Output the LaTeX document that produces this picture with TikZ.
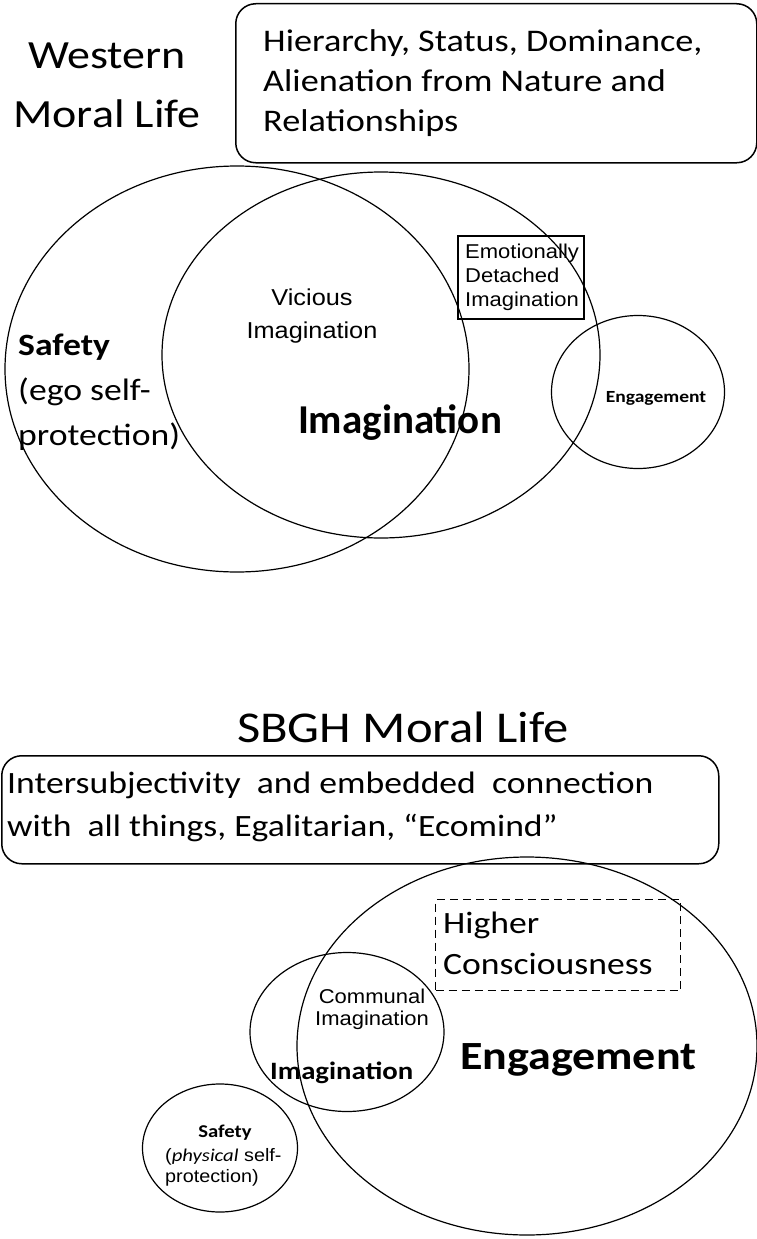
\documentclass[tikz,border=0pt]{standalone}
\usepackage{fontspec}
\setmainfont[FakeStretch=1.15]{Carlito}
\newfontfamily\plainfont{Carlito}
\newfontfamily\arialfont[FakeStretch=1.1]{Liberation Sans}
\usetikzlibrary{positioning, shapes.geometric}

\begin{document}
\begin{tikzpicture}[x=1pt, y=-1pt,
    ring/.style = {draw, ellipse, line width=1.2pt, inner sep=0pt},
    panel/.style = {draw, rounded corners=20pt, line width=1.5pt, inner sep=0pt, anchor=north west},
    tag/.style = {inner sep=0pt, align=left}]
    \useasboundingbox (0,0) rectangle (757,1239);

    % Western moral life
    \node[tag, align=center, anchor=base, font=\fontsize{40}{59}\selectfont] (titleW) at (107,127) {Western\\Moral Life};
    \node[panel, minimum width=521pt, minimum height=159pt] (boxW) at (235,3) {};
    \node[tag, anchor=base west, font=\fontsize{31.5}{40}\selectfont] (valuesW) at (263,131)
        {Hierarchy, Status, Dominance,\\Alienation from Nature and\\Relationships};

    % Circles
    \node[ring, minimum width=464pt, minimum height=406pt] (safetyW) at (237,369) {};
    \node[ring, minimum width=438pt, minimum height=366pt] (imagW) at (381,355) {};
    \node[ring, minimum width=173pt, minimum height=153pt] (engageW) at (638,392) {};
    \node[draw, line width=1.5pt, anchor=north west, minimum width=126pt, minimum height=83pt] (detachedW) at (457,235) {};

    % Labels
    \node[tag, anchor=base west, font=\fontsize{31}{45}\selectfont] (safetyW-txt) at (18,445)
        {\textbf{Safety}\\(ego self-\\protection)};
    \node[tag, align=center, anchor=base, font=\arialfont\fontsize{23}{33}\selectfont] (viciousW) at (312,338) {Vicious\\Imagination};
    \node[tag, anchor=base, font=\plainfont\bfseries\fontsize{41}{48}\selectfont] (imagW-txt) at (400,433) {Imagination};
    \node[tag, anchor=base west, font=\arialfont\fontsize{20}{24}\selectfont] (detachedW-txt) at (465,306)
        {Emotionally\\Detached\\Imagination};
    \node[tag, anchor=base, font=\bfseries\fontsize{17}{20}\selectfont] (engageW-txt) at (656,402) {Engagement};

    % SBGH moral life
    \node[tag, anchor=base west, font=\fontsize{44}{50}\selectfont] (titleS) at (237,742) {SBGH Moral Life};
    \node[panel, minimum width=717pt, minimum height=108pt] (boxS) at (1,755) {};
    \node[tag, anchor=base west, font=\fontsize{31}{43}\selectfont] (valuesS) at (7,836)
        {Intersubjectivity\ \ and embedded\ \ connection\\with\ \ all things, Egalitarian, “Ecomind”};

    % Circles
    \node[ring, minimum width=460pt, minimum height=378pt] (engageS) at (527,1046) {};
    \node[ring, minimum width=194pt, minimum height=159pt] (imagS) at (347,1032) {};
    \node[ring, minimum width=155pt, minimum height=128pt] (safetyS) at (220,1148) {};
    \node[draw, dash pattern=on 8pt off 5pt, line width=1.3pt, anchor=north west, minimum width=245pt, minimum height=91pt] (higherS) at (435,899) {};

    % Labels
    \node[tag, anchor=base west, font=\fontsize{31}{41}\selectfont] (higherS-txt) at (443,974) {Higher\\Consciousness};
    \node[tag, align=center, anchor=base, font=\arialfont\fontsize{20}{22}\selectfont] (communalS) at (372,1025) {Communal\\Imagination};
    \node[tag, anchor=base west, font=\bfseries\fontsize{25}{28}\selectfont] (imagS-txt) at (270,1079) {Imagination};
    \node[tag, anchor=base west, font=\bfseries\fontsize{40}{48}\selectfont] (engageS-txt) at (460,1069) {Engagement};
    \node[tag, anchor=base, font=\bfseries\fontsize{18}{22}\selectfont] (safetyS-txt) at (225,1137) {Safety};
    \node[tag, anchor=base west, font=\arialfont\fontsize{18}{21}\selectfont] (physicalS) at (165,1182)
        {({\rmfamily\itshape physical} self-\\protection)};
\end{tikzpicture}
\end{document}
